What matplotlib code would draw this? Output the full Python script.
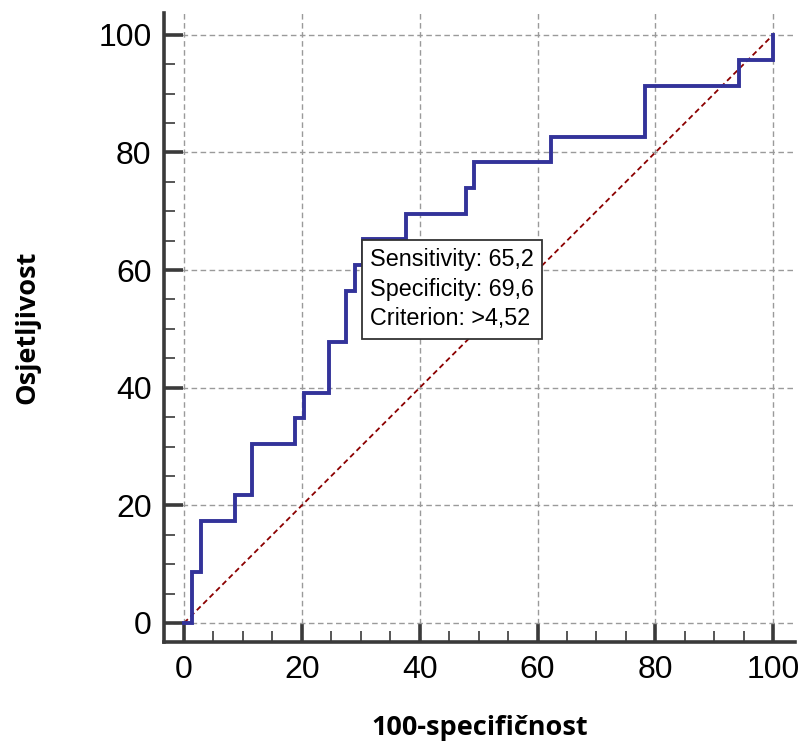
import matplotlib
matplotlib.use("Agg")
import matplotlib.pyplot as plt
from matplotlib.ticker import MultipleLocator

# ROC curve data (100-specificity, sensitivity)
fpr = [0, 1.4, 2.9, 8.7, 11.6, 18.8, 20.3, 24.6, 27.5, 29.0, 30.4, 37.7, 47.8, 49.3, 62.3, 78.3, 94.2, 100]
tpr = [0, 8.7, 17.4, 21.7, 30.4, 34.8, 39.1, 47.8, 56.5, 60.9, 65.2, 69.6, 73.9, 78.3, 82.6, 91.3, 95.7, 100]
diag = [0, 100]
ticks = [0, 20, 40, 60, 80, 100]

crit_x, crit_y = 30.4, 65.2
box_text = "Sensitivity: 65,2\nSpecificity: 69,6\nCriterion: >4,52"

fig = plt.figure(figsize=(8.06, 7.44), dpi=100)
ax = fig.add_axes([164 / 806, (744 - 642) / 744, (795 - 164) / 806, (642 - 13) / 744])

ax.set_xlim(-3.4, 103.7)
ax.set_ylim(-3.23, 103.7)

ax.grid(True, which="major", color="#9a9a9a", linestyle=(0, (4, 2.5)), linewidth=1.0)
ax.set_axisbelow(True)

ax.plot(diag, diag, color="#8b0000", linestyle=(0, (3, 2)), linewidth=1.3, zorder=2)
ax.plot(fpr, tpr, drawstyle="steps-post", color="#33339a", linewidth=2.8, zorder=3,
        solid_joinstyle="miter")

for s in ["top", "right"]:
    ax.spines[s].set_visible(False)
for s in ["left", "bottom"]:
    ax.spines[s].set_linewidth(2.6)
    ax.spines[s].set_color("#3a3a3a")

ax.set_xticks(ticks)
ax.set_yticks(ticks)
ax.xaxis.set_minor_locator(MultipleLocator(5))
ax.yaxis.set_minor_locator(MultipleLocator(5))
ax.tick_params(which="major", direction="in", length=14, width=2.6, color="#3a3a3a",
               labelsize=23, pad=9)
ax.tick_params(which="minor", direction="in", length=8, width=1.2, color="#3a3a3a")
for lab in ax.get_xticklabels() + ax.get_yticklabels():
    lab.set_fontfamily("Liberation Sans")

ax.set_xlabel("100-specifičnost", fontfamily="Open Sans", fontweight="bold", fontsize=19.5, labelpad=22)
ax.set_ylabel("Osjetljivost", fontfamily="Open Sans", fontweight="bold", fontsize=19.5, labelpad=42)

ax.annotate(box_text, xy=(crit_x, crit_y), xytext=(7, -9), textcoords="offset pixels",
            ha="left", va="top", fontsize=16.8, fontfamily="Liberation Sans", linespacing=1.36,
            bbox=dict(boxstyle="square,pad=0.35", facecolor="white", edgecolor="#333333", linewidth=1.3),
            zorder=5)

fig.savefig("out.png", dpi=100)
